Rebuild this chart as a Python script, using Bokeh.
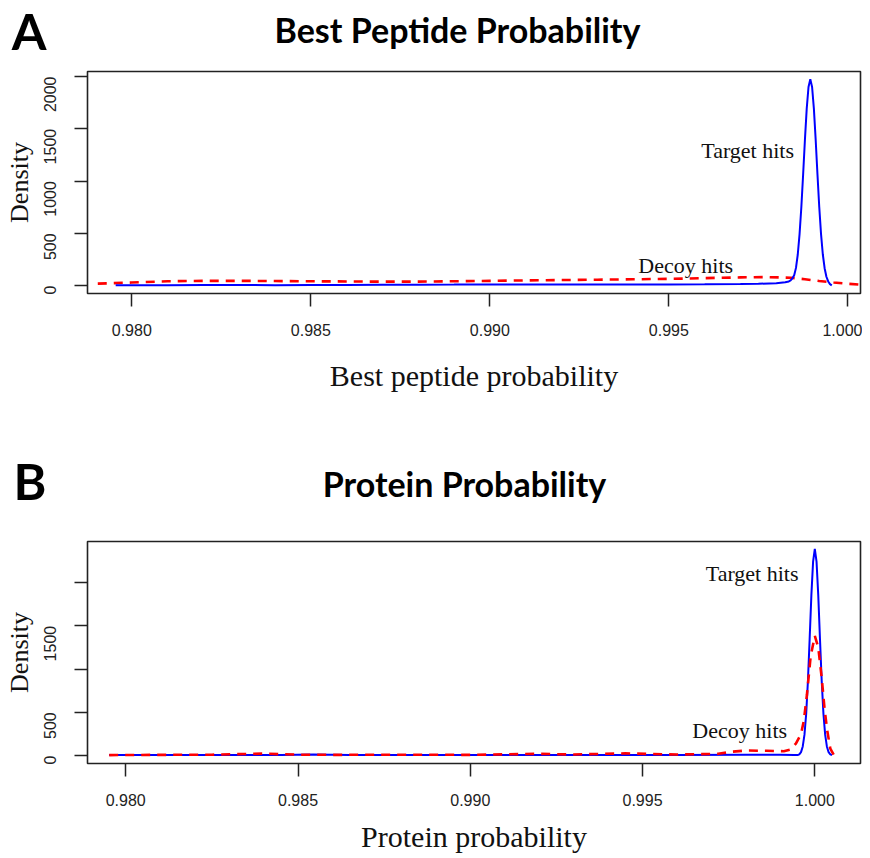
import math
from bokeh.plotting import figure
from bokeh.layouts import column
from bokeh.models import Range1d, FixedTicker, Label, NumeralTickFormatter
from bokeh.embed import file_html
from bokeh.resources import INLINE

# ---------------- data ----------------
x_ticks = [0.980, 0.985, 0.990, 0.995, 1.000]
y_ticks = [0, 500, 1000, 1500, 2000]

# Panel A: best peptide probability densities
pep_target_x = [0.97955, 0.9800, 0.9810, 0.9820, 0.9830, 0.9840, 0.9850, 0.9860, 0.9870, 0.9880,
                0.9890, 0.9900, 0.9910, 0.9920, 0.9930, 0.9940, 0.9950, 0.9960, 0.9970, 0.9975,
                0.9980, 0.99825, 0.99835, 0.9984, 0.99845, 0.9985, 0.99855, 0.9986, 0.99865, 0.9987,
                0.99875, 0.9988, 0.99885, 0.9989, 0.99895, 0.9990, 0.99905, 0.9991, 0.99915, 0.9992,
                0.99925, 0.9993, 0.99935, 0.9994, 0.99945, 0.9995, 0.99955]
pep_target_y = [3, 4, 5, 6, 6, 5, 6, 7, 8, 9,
                10, 12, 11, 10, 10, 11, 12, 13, 15, 18,
                24, 32, 40, 50, 70, 100, 170, 298, 493, 752,
                1065, 1396, 1693, 1900, 1975, 1900, 1693, 1396, 1065, 752,
                493, 298, 167, 85, 40, 15, 3]
pep_decoy_x = [0.97905, 0.9800, 0.9810, 0.9820, 0.9830, 0.9840, 0.9850, 0.9860, 0.9870, 0.9880,
               0.9890, 0.9900, 0.9910, 0.9920, 0.9930, 0.9940, 0.9950, 0.9960, 0.9970, 0.9977,
               0.9984, 0.9988, 0.9992, 0.9996, 1.0000, 1.00035]
pep_decoy_y = [19, 30, 42, 46, 46, 44, 42, 40, 38, 39,
               42, 46, 50, 54, 57, 61, 65, 72, 79, 82,
               76, 62, 44, 30, 18, 10]

# Panel B: protein probability densities
prot_target_x = [0.97952, 0.9810, 0.9830, 0.9845, 0.98545, 0.9865, 0.9880, 0.9900, 0.9920, 0.9940,
                 0.9960, 0.9980, 0.9990, 0.9994, 0.9995, 0.99955, 0.9996, 0.99965, 0.9997, 0.99975,
                 0.9998, 0.99985, 0.9999, 0.99995, 1.0000, 1.00005, 1.0001, 1.00015, 1.0002, 1.00025,
                 1.0003, 1.00035, 1.0004, 1.00045, 1.0005]
prot_target_y = [5, 5, 6, 7, 12, 6, 5, 6, 6, 6,
                 7, 8, 8, 6, 5, 14, 40, 105, 241, 485,
                 862, 1346, 1852, 2242, 2390, 2242, 1852, 1346, 862, 485,
                 241, 105, 40, 14, 4]
prot_decoy_x = [0.97952, 0.9810, 0.9825, 0.9840, 0.9850, 0.9860, 0.9880, 0.9900, 0.9920, 0.9930,
                0.9945, 0.9960, 0.9972, 0.9976, 0.9980, 0.9986, 0.9991, 0.9993, 0.99945, 0.9996,
                0.99968, 0.99977, 0.99988, 1.0000, 1.0001, 1.0002, 1.00028, 1.00036, 1.00045, 1.00055]
prot_decoy_y = [5, 8, 10, 22, 10, 8, 10, 8, 20, 12,
                25, 12, 20, 45, 58, 55, 50, 70, 138, 250,
                400, 700, 1150, 1385, 1250, 900, 550, 290, 80, 8]

SERIF = "Liberation Serif"
SANS = "Liberation Sans"
TITLE_FONT = "Lato"
W = 862


def make_header(height, letter, ly, title, tx, ty):
    # header strip; its frame is aligned with the panel frames below (x from 87 to 860 px)
    h = figure(width=W, height=height, output_backend="svg", toolbar_location=None,
               x_range=Range1d(87, 860), y_range=Range1d(0, height),
               x_axis_location=None, y_axis_location="left",
               min_border=0)
    h.grid.visible = False
    h.outline_line_color = None
    h.background_fill_color = "white"
    h.border_fill_color = "white"
    # the panel letter sits in the left margin: drawn as the single label of the left axis
    ya = h.yaxis[0]
    ya.ticker = FixedTicker(ticks=[ly])
    ya.major_label_overrides = {ly: letter}
    ya.major_label_orientation = "horizontal"
    ya.major_label_text_font = TITLE_FONT
    ya.major_label_text_font_style = "bold"
    ya.major_label_text_font_size = "50px"
    ya.major_label_text_color = "black"
    ya.major_label_standoff = 41
    ya.major_tick_out = 0
    ya.major_tick_in = 0
    ya.major_tick_line_color = None
    ya.minor_tick_line_color = None
    ya.axis_line_color = None
    h.add_layout(Label(x=tx, y=ty, text=title, text_font=TITLE_FONT, text_font_style="bold",
                       text_font_size="34px", text_align="center", text_baseline="middle",
                       text_color="black"))
    return h


def make_fig(height, border_top, border_bottom, xr, yr, xlabel, label_standoff, overrides):
    p = figure(width=W, height=height, output_backend="svg", toolbar_location=None,
               x_range=Range1d(*xr), y_range=Range1d(*yr),
               min_border_left=87, min_border_right=2,
               min_border_top=border_top, min_border_bottom=border_bottom)
    p.grid.visible = False
    p.outline_line_color = "#222222"
    p.outline_line_width = 1.6
    p.background_fill_color = "white"
    p.border_fill_color = "white"

    xa = p.xaxis[0]
    xa.ticker = FixedTicker(ticks=x_ticks)
    xa.formatter = NumeralTickFormatter(format="0.000")
    xa.axis_line_color = None
    xa.major_tick_out = 13
    xa.major_tick_in = 0
    xa.major_tick_line_width = 1.5
    xa.major_tick_line_color = "#222222"
    xa.minor_tick_line_color = None
    xa.major_label_text_font = SANS
    xa.major_label_text_font_size = "16px"
    xa.major_label_text_color = "#222222"
    xa.major_label_standoff = 17
    xa.axis_label = xlabel
    xa.axis_label_text_font = SERIF
    xa.axis_label_text_font_style = "normal"
    xa.axis_label_text_font_size = "30px"
    xa.axis_label_text_color = "#111111"
    xa.axis_label_standoff = label_standoff

    ya = p.yaxis[0]
    ya.ticker = FixedTicker(ticks=y_ticks)
    ya.axis_line_color = None
    ya.major_tick_out = 13
    ya.major_tick_in = 0
    ya.major_tick_line_width = 1.5
    ya.major_tick_line_color = "#222222"
    ya.minor_tick_line_color = None
    ya.major_label_text_font = SANS
    ya.major_label_text_font_size = "16px"
    ya.major_label_text_color = "#222222"
    ya.major_label_orientation = math.pi / 2
    ya.major_label_standoff = 24
    ya.major_label_overrides = overrides
    ya.axis_label = "Density"
    ya.axis_label_text_font = SERIF
    ya.axis_label_text_font_style = "normal"
    ya.axis_label_text_font_size = "26px"
    ya.axis_label_text_color = "#111111"
    ya.axis_label_standoff = 2
    return p


def add_text(p, x, y, txt):
    p.add_layout(Label(x=x, y=y, text=txt, text_font=SERIF, text_font_size="22px",
                       text_align="center", text_baseline="middle", text_color="#111111"))


# Panel A
ha = make_header(68, "A", 38, "Best Peptide Probability", 457, 39)
pa = make_fig(337, 3, 112, (0.978763, 1.000352), (-75, 2048), "Best peptide probability", 20, {})
pa.line(pep_decoy_x, pep_decoy_y, line_color="#ff0000", line_width=2.6, line_dash="9 7")
pa.line(pep_target_x, pep_target_y, line_color="#0000ff", line_width=2)
add_text(pa, 0.99720, 1291, "Target hits")
add_text(pa, 0.99547, 194, "Decoy hits")

# Panel B
hb = make_header(125, "B", 50, "Protein Probability", 464, 47)
pb = make_fig(327, 11, 94, (0.97889, 1.001326), (-92, 2475), "Protein probability", 11,
              {1000: "", 2000: ""})
pb.line(prot_target_x, prot_target_y, line_color="#0000ff", line_width=2)
pb.line(prot_decoy_x, prot_decoy_y, line_color="#ff0000", line_width=2.6, line_dash="9 7")
add_text(pb, 0.99818, 2102, "Target hits")
add_text(pb, 0.99782, 289, "Decoy hits")

layout = column(ha, pa, hb, pb, spacing=0)
open("out.html", "w").write(file_html(layout, INLINE))
